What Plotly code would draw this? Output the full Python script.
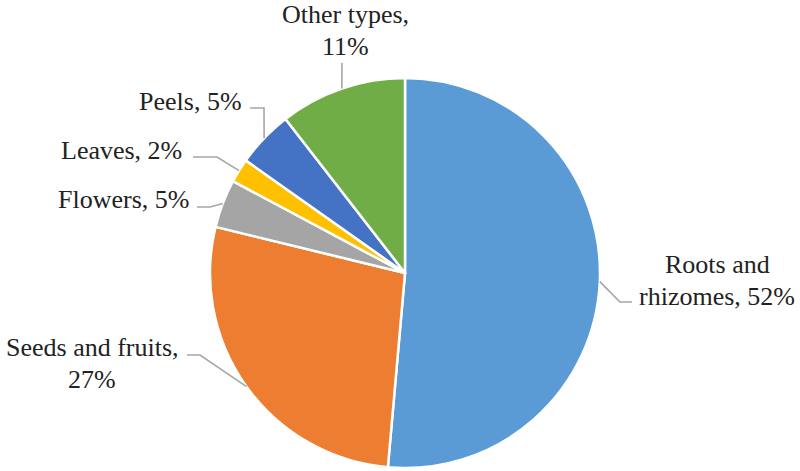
import math
import plotly.graph_objects as go

# ---- data ----
categories = ["Roots and rhizomes", "Seeds and fruits", "Flowers", "Leaves", "Peels", "Other types"]
values = [51.4, 27.4, 4.0, 2.0, 4.7, 10.5]
shown_pct = ["52%", "27%", "5%", "2%", "5%", "11%"]
label_lines = [["Roots and", "rhizomes, 52%"], ["Seeds and fruits,", "27%"], ["Flowers, 5%"],
               ["Leaves, 2%"], ["Peels, 5%"], ["Other types,", "11%"]]
colors = ["#5B9BD5", "#ED7D31", "#A5A5A5", "#FFC000", "#4472C4", "#70AD47"]

# ---- layout (pixels) ----
W, H = 800, 471
CX, CY, R = 405, 273, 195
FONT = "Tinos, Liberation Serif, Times New Roman, serif"
LINE_GAP = 32

def px(x):
    return x / W

def py(y):
    return 1 - y / H

# label placement: (x, y of first line, xanchor) and leader-line bend/end points (pixels)
label_pos = [
    (717, 264, "center"),
    (92, 347, "center"),
    (191, 199, "right"),
    (184, 151, "right"),
    (244, 102, "right"),
    (345, 15, "center"),
]
leader_pts = [
    [(620, 302), (632, 302)],
    [(200, 355), (187, 355)],
    [(210, 207), (197, 207)],
    [(217, 157), (193, 157)],
    [(264, 108), (250, 108)],
    [(342, 63)],
]

fig = go.Figure(go.Pie(
    labels=categories,
    values=values,
    sort=False,
    direction="clockwise",
    rotation=0,
    marker=dict(colors=colors, line=dict(color="white", width=2.5)),
    textinfo="none",
    customdata=shown_pct,
    hovertemplate="%{label}, %{customdata}<extra></extra>",
    domain=dict(x=[px(CX - R), px(CX + R)], y=[py(CY + R), py(CY - R)]),
    showlegend=False,
))

total = sum(values)
cum = 0.0
shapes = []
annotations = []
for i, v in enumerate(values):
    mid = (cum + v / 2) / total * 2 * math.pi
    cum += v
    ex = CX + R * math.sin(mid)
    ey = CY - R * math.cos(mid)
    pts = [(ex, ey)] + leader_pts[i]
    path = "M " + " L ".join(f"{px(x):.5f},{py(y):.5f}" for x, y in pts)
    shapes.append(dict(type="path", path=path, xref="paper", yref="paper",
                       line=dict(color="#A6A6A6", width=1.6)))
    lx, ly, anc = label_pos[i]
    for j, line in enumerate(label_lines[i]):
        annotations.append(dict(
            x=px(lx), y=py(ly + j * LINE_GAP), xref="paper", yref="paper",
            text=line, showarrow=False,
            xanchor=anc, yanchor="middle", align="center",
            font=dict(family=FONT, size=26, color="#222222"),
        ))

fig.update_layout(
    width=W, height=H,
    margin=dict(l=0, r=0, t=0, b=0),
    font=dict(family=FONT, color="#222222"),
    paper_bgcolor="white",
    plot_bgcolor="white",
    shapes=shapes,
    annotations=annotations,
)

fig.write_html("out.html",
               post_script="document.body.style.margin='0';"
                           "var mb=document.querySelectorAll('.modebar-container');"
                           "mb.forEach(function(e){e.style.display='none';});")
